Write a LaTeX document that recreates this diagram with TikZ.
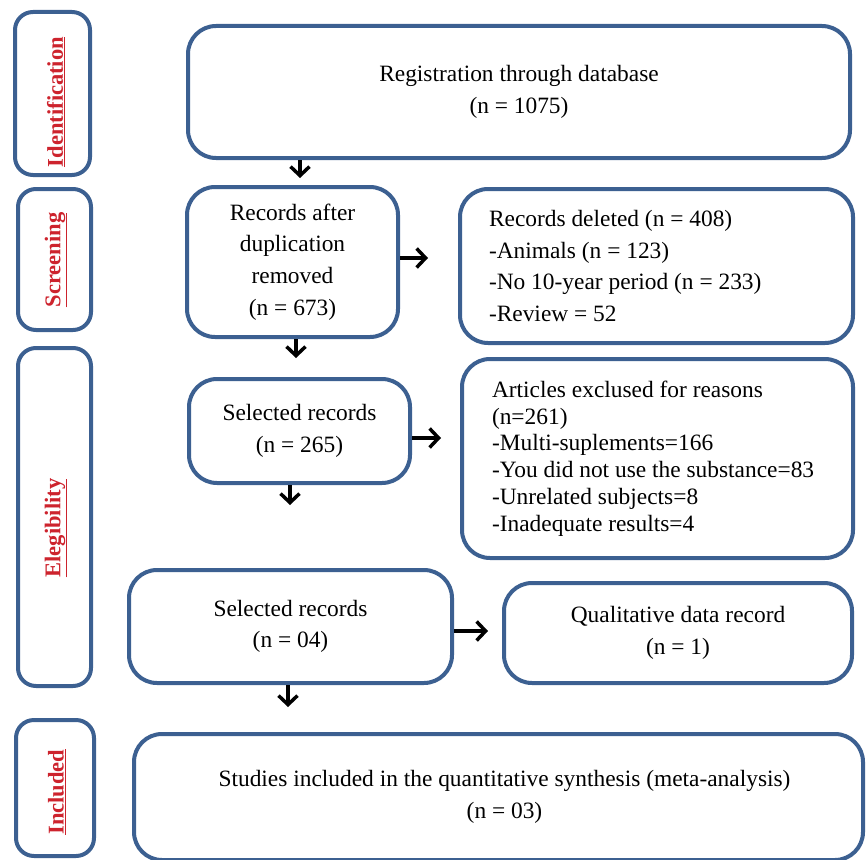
\documentclass[tikz,border=0pt]{standalone}
\usepackage{fontspec}
\setmainfont{Liberation Serif}
\usetikzlibrary{arrows.meta}
\definecolor{boxblue}{RGB}{60,96,145}
\definecolor{labred}{RGB}{205,35,45}
\begin{document}
\begin{tikzpicture}[x=1pt,y=-1pt,
  box/.style={draw=boxblue, line width=4pt, rounded corners=28pt, fill=white, inner sep=0pt,
    font=\fontsize{23.4}{31.5}\selectfont, align=center},
  lab/.style={draw=boxblue, line width=4pt, rounded corners=18pt, inner sep=0pt},
  labtext/.style={text=labred, font=\bfseries\fontsize{22.5}{26}\selectfont, rotate=90, inner sep=0pt},
  arr/.style={-{Straight Barb[length=9pt,width=19pt]}, line width=3.5pt, black}
]
\useasboundingbox (0,0) rectangle (867,859);

% stage labels
\node[lab, minimum width=75pt, minimum height=163pt] (idbox) at (52.5,93.5) {};
\node[lab, minimum width=73pt, minimum height=141pt] (scrbox) at (54.5,259.5) {};
\node[lab, minimum width=73pt, minimum height=338pt] (elibox) at (54.5,517) {};
\node[lab, minimum width=78pt, minimum height=136pt] (incbox) at (55,788) {};
\node[labtext] (idt) at (56,102) {\underline{Identification}};
\node[labtext] (scrt) at (56,260) {\underline{Screening}};
\node[labtext] (elit) at (56,528) {\underline{Elegibility}};
\node[labtext] (inct) at (57,792) {\underline{Included}};

% main boxes
\node[box, minimum width=662pt, minimum height=132pt] (reg) at (519,92)
  {Registration through database\\(n = 1075)};
\node[box, minimum width=211pt, minimum height=150pt] (dup) at (292.5,262)
  {Records after\\duplication\\removed\\(n = 673)};
\node[box, minimum width=393pt, minimum height=154pt, text width=335pt, align=flush left] (del) at (656.5,266)
  {Records deleted (n = 408)\\-Animals (n = 123)\\-No 10-year period (n = 233)\\-Review = 52};
\node[box, minimum width=221pt, minimum height=104pt] (sel1) at (299.5,431)
  {Selected records\\(n = 265)};
\node[box, minimum width=391pt, minimum height=199pt, text width=331pt, align=flush left,
  font=\fontsize{23.4}{26.8}\selectfont] (exc) at (657.5,458.5)
  {Articles exclused for reasons\\(n=261)\\-Multi-suplements=166\\-You did not use the substance=83\\-Unrelated subjects=8\\-Inadequate results=4};
\node[box, minimum width=323pt, minimum height=113pt] (sel2) at (290.5,626.5)
  {Selected records\\(n = 04)};
\node[box, minimum width=348pt, minimum height=100pt] (qual) at (678,633)
  {Qualitative data record\\(n = 1)};
\node[box, minimum width=729pt, minimum height=126pt] (stud) at (498.5,797)
  {\hspace*{12pt}Studies included in the quantitative synthesis (meta-analysis)\\\hspace*{12pt}(n = 03)};

% arrows
\coordinate (t1) at (300,178);
\coordinate (t2) at (428,258);
\coordinate (t3) at (296,358);
\coordinate (t4) at (441,438);
\coordinate (t5) at (290,505);
\coordinate (t6) at (488,631);
\coordinate (t7) at (288,707);
\draw[arr] (reg.south -| t1) -- (t1);
\draw[arr] (dup.east |- t2) -- (t2);
\draw[arr] (dup.south -| t3) -- (t3);
\draw[arr] (sel1.east |- t4) -- (t4);
\draw[arr] (sel1.south -| t5) -- (t5);
\draw[arr] (sel2.east |- t6) -- (t6);
\draw[arr] (sel2.south -| t7) -- (t7);
\end{tikzpicture}
\end{document}
